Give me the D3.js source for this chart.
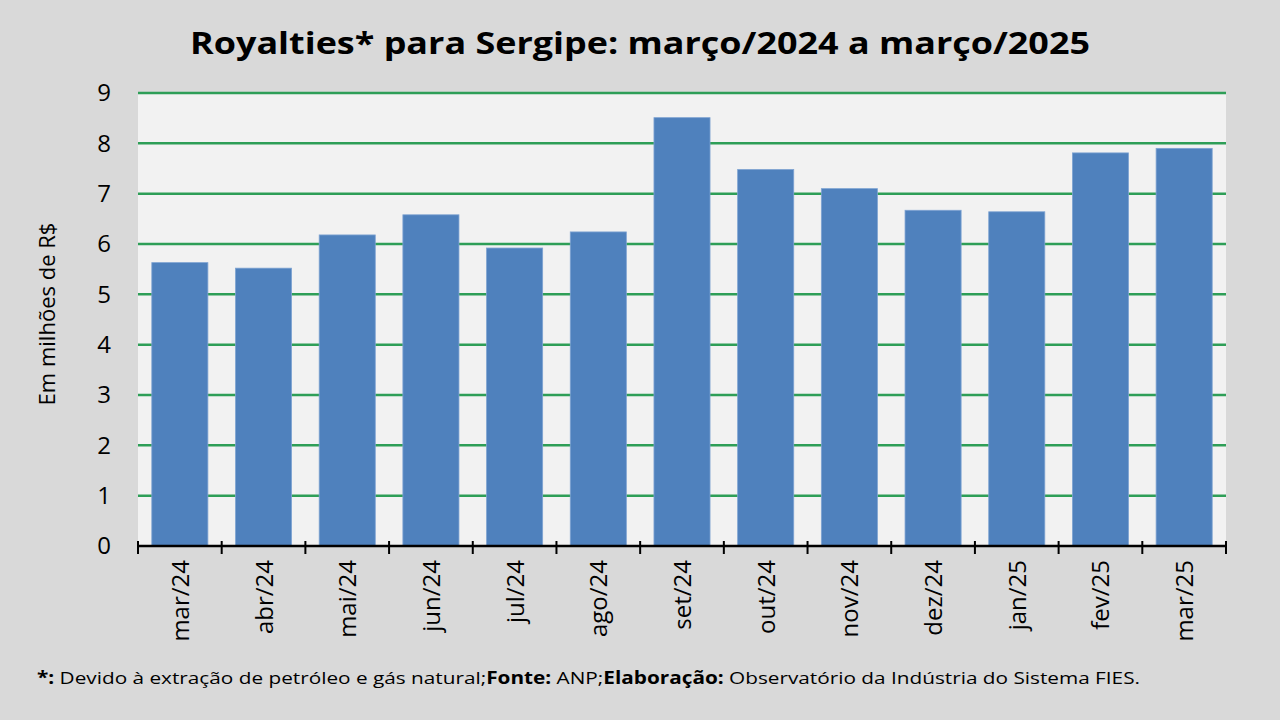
<!DOCTYPE html>
<html>
<head>
<meta charset="utf-8">
<script src="https://cdn.jsdelivr.net/npm/d3@7"></script>
<style>
  html, body { margin: 0; padding: 0; background: #d9d9d9; }
  svg { display: block; font-family: "Open Sans", "Noto Sans", sans-serif; }
</style>
</head>
<body>
<div id="chart"></div>
<script>
// months and values (millions of R$)
let months = ["mar/24", "abr/24", "mai/24", "jun/24", "jul/24", "ago/24", "set/24",
              "out/24", "nov/24", "dez/24", "jan/25", "fev/25", "mar/25"];
let royalties = [5.63, 5.52, 6.18, 6.58, 5.92, 6.24, 8.51, 7.48, 7.10, 6.67, 6.64, 7.81, 7.90];
let yTicks = [0, 1, 2, 3, 4, 5, 6, 7, 8, 9];

let chartTitle = "Royalties* para Sergipe: março/2024 a março/2025";
let yAxisTitle = "Em milhões de R$";

function showBarChart() {
    let width = 1280, height = 720;
    let left = 138, right = 1226, top = 93, bottom = 546;

    let svg = d3.select("#chart").append("svg")
        .attr("width", width)
        .attr("height", height);

    svg.append("rect")
        .attr("width", width)
        .attr("height", height)
        .attr("fill", "#d9d9d9");

    let xScale = d3.scaleBand().domain(months).range([left, right])
        .paddingInner(0.33).paddingOuter(0.165);
    let yScale = d3.scaleLinear().domain([0, 9]).range([bottom, top]);

    // plot area
    svg.append("rect")
        .attr("x", left)
        .attr("y", top)
        .attr("width", right - left)
        .attr("height", bottom - top)
        .attr("fill", "#f2f2f2");

    // gridlines
    svg.append("g")
        .selectAll("line")
        .data(yTicks.filter(d => d > 0))
        .join("line")
        .attr("x1", left)
        .attr("x2", right)
        .attr("y1", d => yScale(d))
        .attr("y2", d => yScale(d))
        .attr("stroke", "#2e9e57")
        .attr("stroke-width", 2.5);

    // bars
    svg.append("g")
        .selectAll("rect")
        .data(royalties)
        .join("rect")
        .attr("x", (d, i) => xScale(months[i]))
        .attr("y", d => yScale(d))
        .attr("width", xScale.bandwidth())
        .attr("height", d => yScale(0) - yScale(d))
        .attr("fill", "#4f81bd")
        .attr("stroke", "#7ea3d2")
        .attr("stroke-width", 0.8);

    // y axis labels, no axis line
    let yAxis = svg.append("g")
        .attr("transform", "translate(" + left + ",0)")
        .call(d3.axisLeft(yScale).tickValues(yTicks).tickSize(0).tickPadding(27).tickFormat(d3.format("d")));
    yAxis.select(".domain").remove();
    yAxis.attr("font-size", null).attr("font-family", null);
    yAxis.selectAll("text")
        .style("font-size", "24px")
        .attr("fill", "#000");

    // x axis: line with crossing ticks at the category boundaries
    let xg = svg.append("g");
    xg.append("line")
        .attr("x1", left)
        .attr("x2", right)
        .attr("y1", bottom)
        .attr("y2", bottom)
        .attr("stroke", "#000")
        .attr("stroke-width", 2.5);
    let bounds = months.map(m => xScale(m) - xScale.step() * xScale.paddingInner() / 2);
    bounds.push(right);
    xg.selectAll(".tick")
        .data(bounds)
        .join("line")
        .attr("class", "tick")
        .attr("x1", d => d)
        .attr("x2", d => d)
        .attr("y1", bottom - 5)
        .attr("y2", bottom + 8)
        .attr("stroke", "#000")
        .attr("stroke-width", 2);

    xg.selectAll(".lbl")
        .data(months)
        .join("text")
        .attr("class", "lbl")
        .attr("transform", d => "translate(" + (xScale(d) + xScale.bandwidth() / 2 + 9) + "," + (bottom + 14) + ") rotate(-90)")
        .attr("text-anchor", "end")
        .attr("font-size", 24)
        .attr("fill", "#000")
        .text(d => d);

    // y axis title
    svg.append("text")
        .attr("transform", "translate(55,314) rotate(-90)")
        .attr("text-anchor", "middle")
        .attr("font-size", 22)
        .attr("fill", "#000")
        .text(yAxisTitle);

    // title
    svg.append("text")
        .attr("x", 640)
        .attr("y", 54)
        .attr("text-anchor", "middle")
        .attr("font-size", 30)
        .attr("font-weight", "bold")
        .attr("fill", "#000")
        .attr("textLength", 900)
        .attr("lengthAdjust", "spacingAndGlyphs")
        .text(chartTitle);

    // footer
    let foot = svg.append("text")
        .attr("x", 37)
        .attr("y", 684)
        .attr("font-size", 17)
        .attr("fill", "#000")
        .attr("textLength", 1103)
        .attr("lengthAdjust", "spacingAndGlyphs");
    foot.append("tspan").attr("font-weight", "bold").text("*:");
    foot.append("tspan").text(" Devido à extração de petróleo e gás natural;");
    foot.append("tspan").attr("font-weight", "bold").text("Fonte:");
    foot.append("tspan").text(" ANP;");
    foot.append("tspan").attr("font-weight", "bold").text("Elaboração:");
    foot.append("tspan").text(" Observatório da Indústria do Sistema FIES.");
}

showBarChart();
</script>
</body>
</html>
